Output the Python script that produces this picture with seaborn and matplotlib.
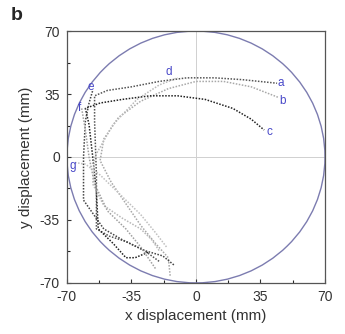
import numpy as np
import pandas as pd
import matplotlib.pyplot as plt
from matplotlib.patches import Circle
import seaborn as sns

# trajectory points (mm)
traj_a_x = [-20, -28, -38, -47, -54, -54, -55, -55, -48, -35, -20, -5, 10, 25, 44]
traj_a_y = [-58, -52, -47, -44, -40, -10, 20, 34, 37, 39, 42, 44, 44, 43, 41]
traj_b_x = [-14, -15, -22, -30, -38, -46, -52, -50, -42, -30, -15, 0, 15, 30, 45]
traj_b_y = [-66, -56, -48, -38, -26, -14, -2, 10, 22, 31, 38, 42, 42, 39, 33]
traj_c_x = [-26, -33, -38, -45, -53, -54, -56, -58, -60, -52, -40, -25, -10, 5, 20, 30, 37]
traj_c_y = [-53, -56, -56, -48, -40, -20, 0, 18, 27, 30, 32, 34, 34, 32, 27, 21, 15]
traj_d_x = [-20, -24, -30, -40, -50, -56, -55, -45, -32, -20, -10]
traj_d_y = [-52, -46, -40, -34, -27, -15, 0, 18, 32, 40, 44]
traj_e_x = [-12, -18, -28, -40, -50, -61, -61, -60, -58, -56]
traj_e_y = [-60, -55, -52, -46, -40, -24, 0, 20, 30, 37]
traj_f_x = [-22, -30, -38, -48, -55, -58, -60, -62]
traj_f_y = [-62, -50, -40, -30, -15, 0, 15, 27]
traj_g_x = [-16, -22, -30, -42, -52, -60, -66]
traj_g_y = [-50, -42, -32, -20, -10, -4, -3]

labels = ["a", "b", "c", "d", "e", "f", "g"]
label_x = [46, 47, 40, -15, -57, -63, -67]
label_y = [41, 31, 14, 47, 39, 27, -5]

trajs = {
    "a": (traj_a_x, traj_a_y, "#555555"),
    "b": (traj_b_x, traj_b_y, "#a8a8a8"),
    "c": (traj_c_x, traj_c_y, "#222222"),
    "d": (traj_d_x, traj_d_y, "#b8b8b8"),
    "e": (traj_e_x, traj_e_y, "#444444"),
    "f": (traj_f_x, traj_f_y, "#a0a0a0"),
    "g": (traj_g_x, traj_g_y, "#c0c0c0"),
}

sns.set_style("ticks")
plt.rcParams['font.family'] = ['Liberation Sans', 'DejaVu Sans']
plt.rcParams['axes.unicode_minus'] = False

fig = plt.figure(figsize=(3.45, 3.34), dpi=100)
ax = fig.add_axes([0.194, 0.153, 0.748, 0.754])

for name, (xs, ys, col) in trajs.items():
    df = pd.DataFrame({"x": xs, "y": ys})
    sns.lineplot(data=df, x="x", y="y", sort=False, estimator=None, ax=ax,
                 color=col, linewidth=1.1, linestyle=(0, (1, 1)))

# dish boundary and centre lines
ax.add_patch(Circle((0, 0), 70, fill=False, edgecolor="#7c7cb0", linewidth=1.0))
ax.axhline(0, color="#d0d0d0", linewidth=0.7, zorder=0)
ax.axvline(0, color="#d0d0d0", linewidth=0.7, zorder=0)

for lab, lx, ly in zip(labels, label_x, label_y):
    ax.text(lx, ly, lab, color="#4848c8", fontsize=8.5, ha="center", va="center")

ax.set_xlim(-70, 70)
ax.set_ylim(-70, 70)
ticks = [-70, -35, 0, 35, 70]
ax.set_xticks(ticks)
ax.set_yticks(ticks)
ax.set_xticks([-52.5, -17.5, 17.5, 52.5], minor=True)
ax.set_yticks([-52.5, -17.5, 17.5, 52.5], minor=True)
ax.tick_params(direction="in", length=3, width=0.8, labelsize=10, colors="#333333", pad=5)
ax.tick_params(which="minor", direction="in", length=2, width=0.8)
for sp in ax.spines.values():
    sp.set_visible(True)
    sp.set_color("#555555")
    sp.set_linewidth(0.9)

ax.set_xlabel("x displacement (mm)", fontsize=11, color="#333333", labelpad=4)
ax.set_ylabel("y displacement (mm)", fontsize=11, color="#333333", labelpad=5)
fig.text(0.03, 0.955, "b", fontsize=14, fontweight="bold", va="center")

fig.savefig("out.png", dpi=100)
